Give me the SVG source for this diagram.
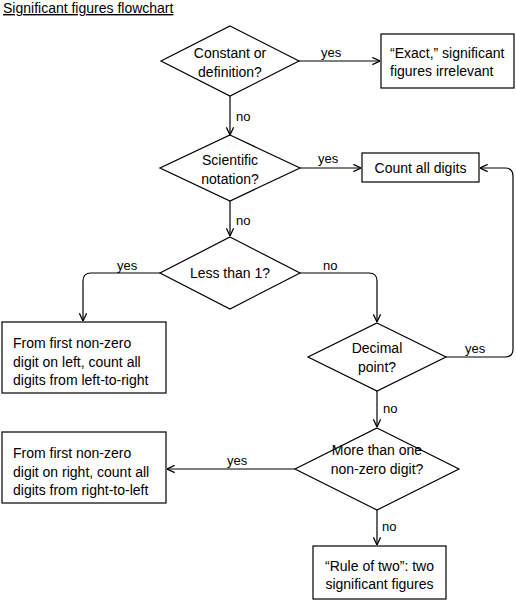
<svg xmlns="http://www.w3.org/2000/svg" width="516" height="600" viewBox="0 0 516 600">
<style>
.shape{fill:#fff;stroke:#000;stroke-width:1.2}
.t{font-family:"Liberation Sans",Arial,sans-serif;font-size:14px;fill:#000}
.c{text-anchor:middle}
.lbl{font-family:"Liberation Sans",Arial,sans-serif;font-size:13px;fill:#000}
.conn{fill:none;stroke:#000;stroke-width:1.2}
</style>
<defs>
<marker id="arr" viewBox="0 0 10 10" refX="9.5" refY="5" markerWidth="9" markerHeight="9" markerUnits="userSpaceOnUse" orient="auto">
<path d="M1,1 L9.5,5 L1,9" fill="none" stroke="#000" stroke-width="1.4"/>
</marker>
</defs>
<rect width="516" height="600" fill="#fff"/>
<text x="3" y="13" class="t" text-decoration="underline">Significant figures flowchart</text>

<g id="connectors">
<path class="conn" d="M298,61 H380" marker-end="url(#arr)"/>
<path class="conn" d="M230,96 V135" marker-end="url(#arr)"/>
<path class="conn" d="M300,168 H361" marker-end="url(#arr)"/>
<path class="conn" d="M230,201 V236" marker-end="url(#arr)"/>
<path class="conn" d="M160,273 H91 Q83,273 83,281 V321" marker-end="url(#arr)"/>
<path class="conn" d="M300,273 H369 Q377,273 377,281 V322" marker-end="url(#arr)"/>
<path class="conn" d="M446,357 H505 Q513,357 513,349 V176 Q513,168 505,168 H480" marker-end="url(#arr)"/>
<path class="conn" d="M377,391 V427" marker-end="url(#arr)"/>
<path class="conn" d="M295,469 H167" marker-end="url(#arr)"/>
<path class="conn" d="M377,510 V545" marker-end="url(#arr)"/>
<text x="321" y="57" class="lbl">yes</text>
<text x="236" y="121" class="lbl">no</text>
<text x="318" y="163" class="lbl">yes</text>
<text x="236" y="225" class="lbl">no</text>
<text x="117" y="270" class="lbl">yes</text>
<text x="323" y="270" class="lbl">no</text>
<text x="465" y="353" class="lbl">yes</text>
<text x="383" y="413" class="lbl">no</text>
<text x="227" y="465" class="lbl">yes</text>
<text x="382" y="531" class="lbl">no</text>
</g>

<g id="d1">
<polygon class="shape" points="230,26 299,61 230,96 161,61"/>
<text x="230" y="58" class="t c">Constant or</text>
<text x="230" y="77" class="t c">definition?</text>
</g>
<g id="exact">
<rect class="shape" x="381" y="34" width="133" height="54"/>
<text x="390" y="58" class="t">“Exact,” significant</text>
<text x="390" y="76" class="t">figures irrelevant</text>
</g>
<g id="d2">
<polygon class="shape" points="230,135 300,168 230,201 160,168"/>
<text x="230" y="165" class="t c">Scientific</text>
<text x="230" y="184" class="t c">notation?</text>
</g>
<g id="countall">
<rect class="shape" x="362" y="153" width="117" height="29"/>
<text x="420.5" y="173" class="t c">Count all digits</text>
</g>
<g id="d3">
<polygon class="shape" points="230,237 300,273 230,309 160,273"/>
<text x="230" y="278" class="t c">Less than 1?</text>
</g>
<g id="ltr">
<rect class="shape" x="2" y="322" width="164" height="71"/>
<text x="13" y="348" class="t">From first non-zero</text>
<text x="13" y="367" class="t">digit on left, count all</text>
<text x="13" y="385" class="t">digits from left-to-right</text>
</g>
<g id="d4">
<polygon class="shape" points="377,323 446,357 377,391 308,357"/>
<text x="377" y="353" class="t c">Decimal</text>
<text x="377" y="372" class="t c">point?</text>
</g>
<g id="d5">
<polygon class="shape" points="377,428 459,469 377,510 295,469"/>
<text x="377" y="455" class="t c">More than one</text>
<text x="377" y="474" class="t c">non-zero digit?</text>
</g>
<g id="rtl">
<rect class="shape" x="2" y="432" width="164" height="71"/>
<text x="13" y="458" class="t">From first non-zero</text>
<text x="13" y="477" class="t">digit on right, count all</text>
<text x="13" y="495" class="t">digits from right-to-left</text>
</g>
<g id="ruleoftwo">
<rect class="shape" x="313" y="546" width="133" height="53"/>
<text x="379.5" y="571" class="t c">“Rule of two”: two</text>
<text x="379.5" y="589" class="t c">significant figures</text>
</g>
</svg>
